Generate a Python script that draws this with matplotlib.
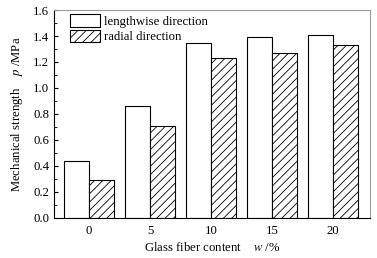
import numpy as np
import matplotlib
matplotlib.use("Agg")
import matplotlib.pyplot as plt
from matplotlib.ticker import MultipleLocator

plt.rcParams['font.family'] = ['Liberation Serif', 'DejaVu Serif']
plt.rcParams['mathtext.fontset'] = 'stix'
plt.rcParams['hatch.linewidth'] = 0.6

# data
contents = ['0', '5', '10', '15', '20']
lengthwise = [0.44, 0.86, 1.35, 1.39, 1.41]
radial = [0.29, 0.71, 1.23, 1.27, 1.33]

fig = plt.figure(figsize=(3.77, 2.58), dpi=100)
ax = fig.add_axes([54 / 377, 40 / 258, 316 / 377, 208 / 258])

x = np.arange(len(contents))
w = 0.405
ax.bar(x - w / 2, lengthwise, w, color='white', edgecolor='black', linewidth=0.8,
       label='lengthwise direction')
ax.bar(x + w / 2, radial, w, color='white', edgecolor='black', linewidth=0.8,
       hatch='////', label='radial direction')

ax.set_xlim(-0.575, 4.605)
ax.set_ylim(0, 1.6)
ax.set_xticks(x)
ax.set_xticklabels(contents)
ax.yaxis.set_major_locator(MultipleLocator(0.2))
ax.yaxis.set_minor_locator(MultipleLocator(0.1))
ax.yaxis.set_major_formatter(plt.FuncFormatter(lambda v, p: f'{v:.1f}'))
ax.tick_params(axis='y', which='major', direction='in', length=3, width=0.8, labelsize=9.2)
ax.tick_params(axis='y', which='minor', direction='in', length=2, width=0.6)
ax.tick_params(axis='x', length=0, labelsize=9.2, pad=5)

for s in ['top', 'right']:
    ax.spines[s].set_color('#999999')
    ax.spines[s].set_linewidth(0.8)
for s in ['left', 'bottom']:
    ax.spines[s].set_linewidth(0.8)

ax.set_xlabel('Glass fiber content    $w$ /%', fontsize=9.2, labelpad=3)
ax.set_ylabel('Mechanical strength    $p$ /MPa', fontsize=9.2, labelpad=6)

ax.legend(loc='upper left', bbox_to_anchor=(0.025, 1.017), frameon=False, fontsize=9.2,
          handlelength=2.4, handleheight=1.15, handletextpad=0.3, labelspacing=0.15,
          borderaxespad=0.2)

fig.savefig('out.png', dpi=100)
